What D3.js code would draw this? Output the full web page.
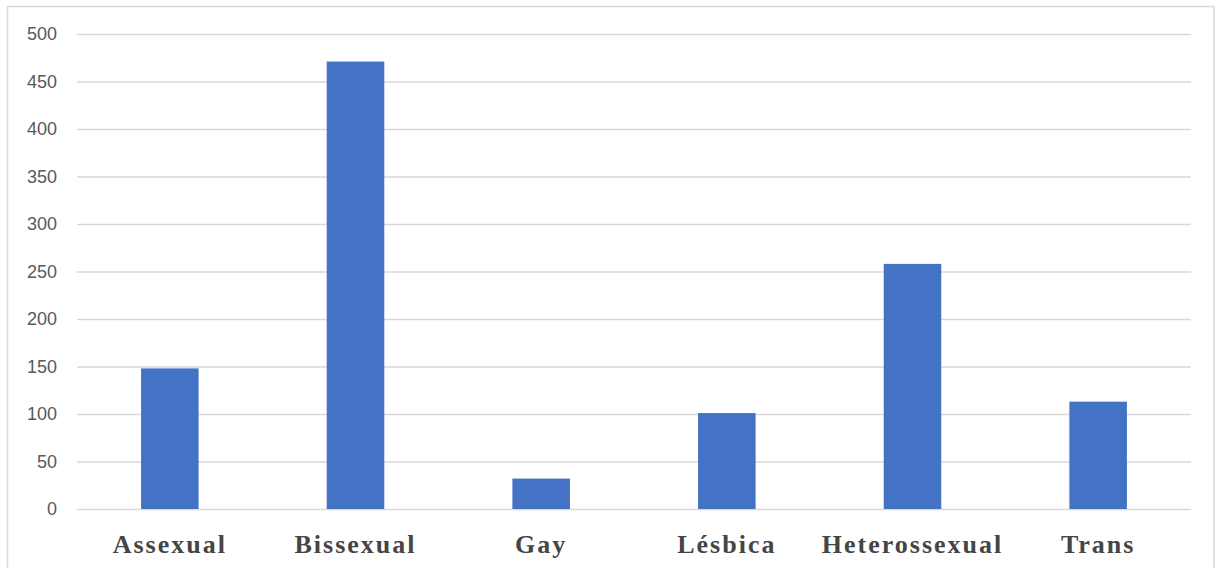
<!DOCTYPE html>
<html>
<head>
<meta charset="utf-8">
<script src="https://cdn.jsdelivr.net/npm/d3@7"></script>
<style>
  html, body { margin: 0; padding: 0; background: #fff; }
  svg { display: block; }
</style>
</head>
<body>
<svg id="chart" width="1216" height="568"></svg>
<script>
// Respondents by orientation / identity
const categories = ["Assexual", "Bissexual", "Gay", "Lésbica", "Heterossexual", "Trans"];
const counts = [148, 471, 32, 101, 258, 113];
const yTicks = [0, 50, 100, 150, 200, 250, 300, 350, 400, 450, 500];

const svg = d3.select("#chart");
const W = 1216, H = 568;
const plot = { left: 77, right: 1191, top: 34, bottom: 509 };

// Outer frame
svg.append("rect")
  .attr("x", 7.5).attr("y", 6.5)
  .attr("width", 1214 - 7.5).attr("height", H + 10)
  .attr("fill", "#fff")
  .attr("stroke", "#d9d9d9").attr("stroke-width", 1.5);

const x = d3.scaleBand()
  .domain(categories)
  .range([plot.left, plot.right])
  .paddingInner(0.69)
  .paddingOuter(0.345);

const y = d3.scaleLinear()
  .domain([0, 500])
  .range([plot.bottom, plot.top]);

// Horizontal gridlines + value labels
const yAxis = d3.axisLeft(y)
  .tickValues(yTicks)
  .tickSize(-(plot.right - plot.left))
  .tickPadding(20);

const gy = svg.append("g")
  .attr("transform", `translate(${plot.left},0)`)
  .call(yAxis);
gy.select(".domain").remove();
gy.selectAll(".tick line")
  .attr("stroke", "#d9d9d9")
  .attr("stroke-width", 1.5);
gy.selectAll(".tick text")
  .attr("fill", "#595959")
  .style("font-family", "'Liberation Sans', Arial, sans-serif")
  .style("font-size", "18px");

// Bars
svg.append("g")
  .selectAll("rect")
  .data(categories)
  .join("rect")
  .attr("x", d => x(d))
  .attr("width", x.bandwidth())
  .attr("y", (d, i) => y(counts[i]))
  .attr("height", (d, i) => y(0) - y(counts[i]))
  .attr("fill", "#4472c4");

// Category labels
const xAxis = d3.axisBottom(x).tickSize(0).tickPadding(0);
const gx = svg.append("g")
  .attr("transform", `translate(0,${plot.bottom})`)
  .call(xAxis);
gx.select(".domain").remove();
gx.selectAll(".tick text")
  .attr("y", 44)
  .attr("dy", 0)
  .attr("fill", "#454545")
  .style("font-family", "'Liberation Serif', 'Times New Roman', serif")
  .style("font-weight", "bold")
  .style("font-size", "26px")
  .style("letter-spacing", "2px");
</script>
</body>
</html>
